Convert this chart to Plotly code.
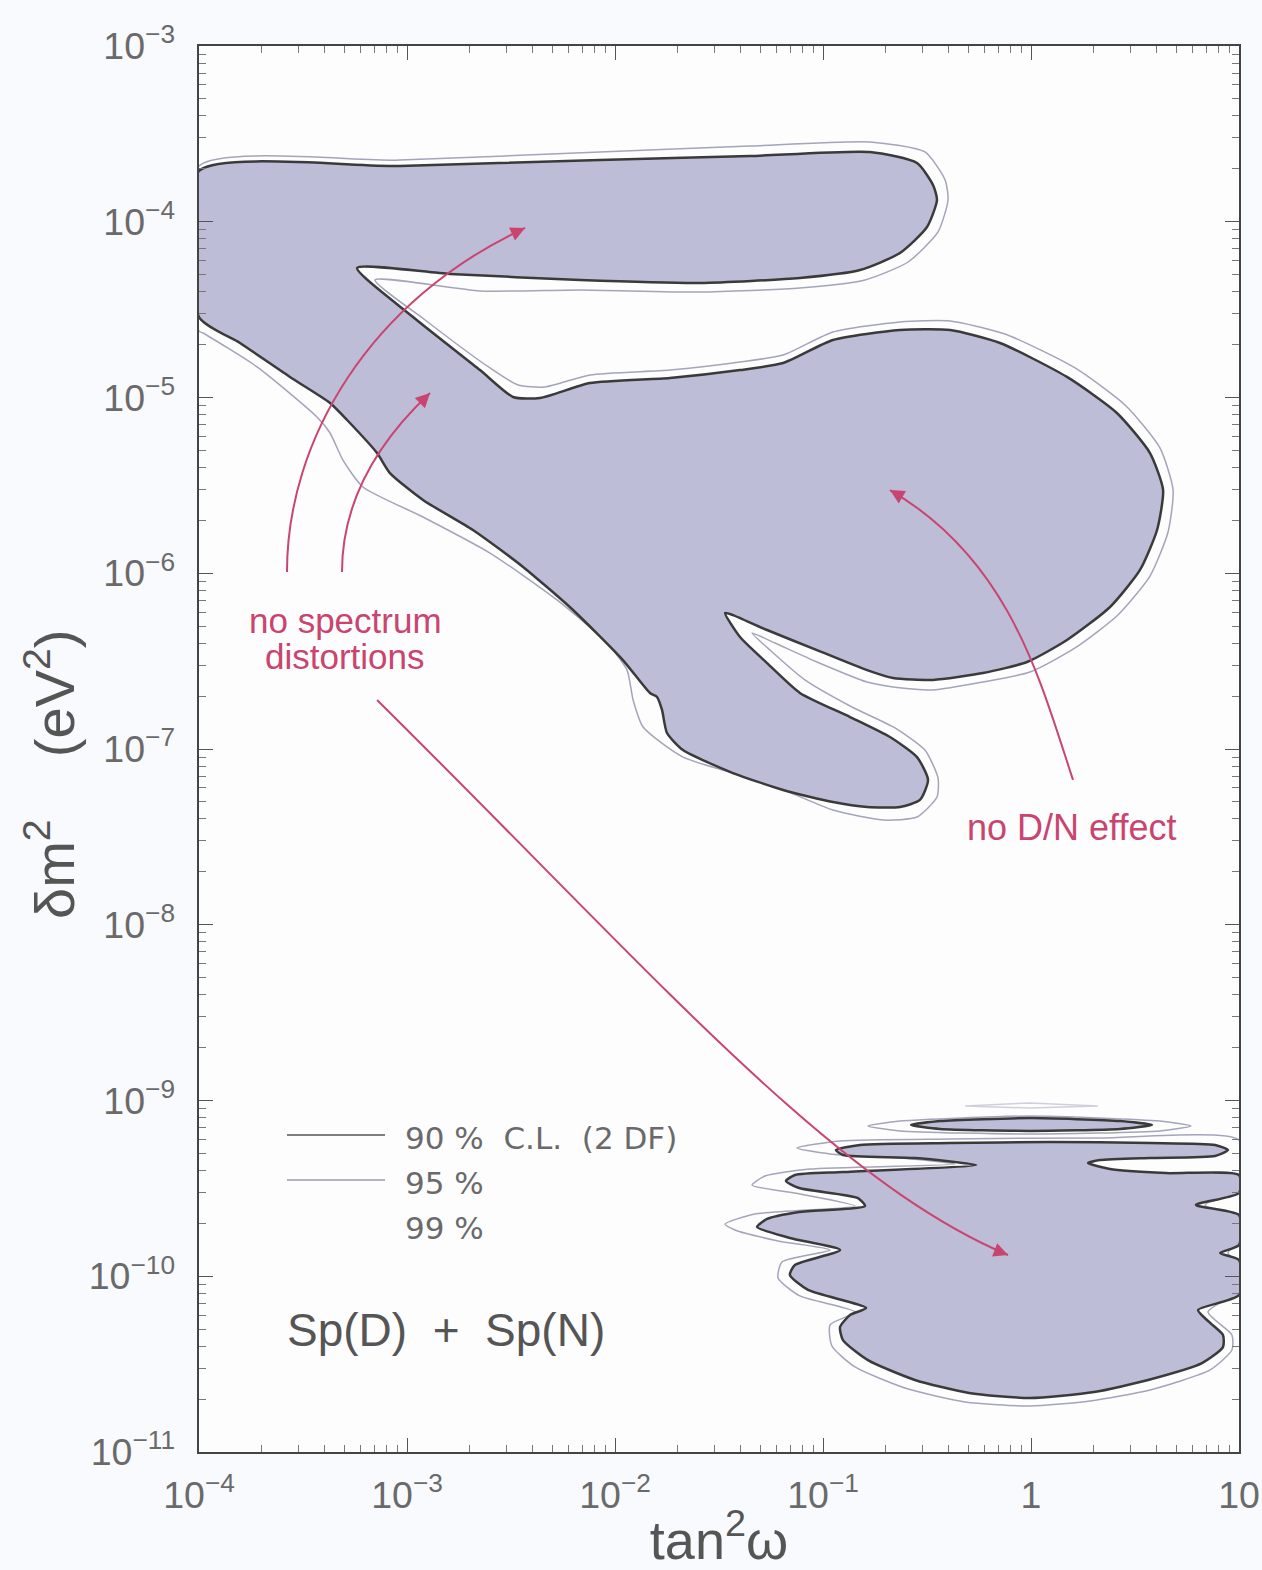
import plotly.graph_objects as go

# ---- axis ranges (log10) ----
x_log_range = [-4, 1]
y_log_range = [-11, -3]

# ---- 90% C.L. contours (log10 tan^2 w, log10 dm^2) ----
cl90_main_log_tan2 = [-4.000, -3.034, -2.072, -1.351, -0.774, -0.548, -0.471, -0.452, -0.500, -0.630,
                      -0.822, -1.111, -1.591, -2.168, -2.793, -3.240, -2.971, -2.649, -2.490, -2.361,
                      -2.120, -1.736, -1.399, -1.192, -0.952, -0.630, -0.389, -0.149, 0.173, 0.413,
                      0.572, 0.635, 0.606, 0.524, 0.380, 0.173, -0.019, -0.231, -0.471, -0.663,
                      -0.788, -1.029, -1.269, -1.433, -1.471, -1.399, -1.269, -1.111, -0.870, -0.678,
                      -0.548, -0.495, -0.534, -0.630, -0.788, -0.952, -1.192, -1.433, -1.673, -1.750,
                      -1.774, -1.798, -1.832, -1.962, -2.202, -2.442, -2.683, -2.923, -3.082, -3.144,
                      -3.288, -3.370, -3.563, -3.803, -4.000]
cl90_main_log_dm2 = [-3.711, -3.683, -3.649, -3.626, -3.603, -3.666, -3.791, -3.876, -4.030, -4.178,
                     -4.275, -4.320, -4.348, -4.331, -4.297, -4.263, -4.542, -4.844, -4.997, -5.003,
                     -4.918, -4.889, -4.844, -4.804, -4.673, -4.616, -4.616, -4.690, -4.883, -5.088,
                     -5.316, -5.526, -5.754, -5.981, -6.192, -6.380, -6.505, -6.568, -6.607, -6.596,
                     -6.551, -6.437, -6.323, -6.238, -6.226, -6.363, -6.511, -6.681, -6.818, -6.932,
                     -7.046, -7.176, -7.290, -7.330, -7.330, -7.302, -7.233, -7.137, -7.006, -6.909,
                     -6.778, -6.704, -6.681, -6.494, -6.209, -5.964, -5.754, -5.583, -5.430, -5.316,
                     -5.128, -5.031, -4.883, -4.690, -4.542]

cl90_low_log_tan2 = [-0.938, -0.822, -0.389, 0.091, 0.572, 0.885, 0.947, 0.885, 0.572, 0.332,
                     0.274, 0.380, 0.649, 1.000, 1.000, 0.793, 1.000, 1.000, 0.909, 1.000,
                     1.000, 0.803, 0.856, 0.923, 0.923, 0.822, 0.563, 0.303, -0.005, -0.298,
                     -0.558, -0.784, -0.904, -0.918, -0.870, -0.793, -1.072, -1.159, -1.135, -0.918,
                     -1.159, -1.317, -1.269, -1.115, -0.798, -0.832, -1.115, -1.178, -1.135, -0.904,
                     -0.264, -0.558, -0.904]
cl90_low_log_dm2 = [-9.282, -9.253, -9.242, -9.236, -9.242, -9.253, -9.282, -9.316, -9.327, -9.339,
                    -9.356, -9.390, -9.413, -9.424, -9.526, -9.594, -9.652, -9.822, -9.868, -9.908,
                    -10.107, -10.192, -10.260, -10.334, -10.403, -10.494, -10.590, -10.659, -10.693, -10.664,
                    -10.590, -10.477, -10.363, -10.289, -10.220, -10.181, -10.078, -9.993, -9.936, -9.851,
                    -9.782, -9.720, -9.674, -9.634, -9.600, -9.555, -9.498, -9.458, -9.424, -9.407,
                    -9.367, -9.327, -9.310]

cl90_sliver_log_tan2 = [-0.577, -0.438, -0.005, 0.428, 0.582, 0.428, -0.005, -0.438]
cl90_sliver_log_dm2 = [-9.139, -9.117, -9.100, -9.117, -9.139, -9.162, -9.173, -9.162]

# ---- 95% C.L. contours ----
cl95_main_log_tan2 = [-4.000, -3.034, -2.072, -1.351, -0.774, -0.510, -0.413, -0.399, -0.447, -0.591,
                      -0.798, -1.111, -1.591, -2.168, -2.649, -3.154, -2.913, -2.601, -2.466, -2.337,
                      -2.120, -1.736, -1.399, -1.192, -0.952, -0.630, -0.389, -0.125, 0.212, 0.457,
                      0.620, 0.683, 0.659, 0.572, 0.418, 0.212, -0.005, -0.231, -0.471, -0.663,
                      -0.788, -1.029, -1.231, -1.341, -1.255, -1.087, -0.861, -0.654, -0.510, -0.447,
                      -0.452, -0.548, -0.712, -0.952, -1.269, -1.673, -1.865, -1.913, -1.942, -2.038,
                      -2.279, -2.601, -2.923, -3.212, -3.308, -3.370, -3.433, -3.721, -3.981, -4.000]
cl95_main_log_dm2 = [-3.683, -3.649, -3.603, -3.569, -3.546, -3.603, -3.762, -3.876, -4.058, -4.229,
                     -4.331, -4.377, -4.400, -4.388, -4.394, -4.331, -4.559, -4.832, -4.929, -4.940,
                     -4.872, -4.844, -4.798, -4.758, -4.627, -4.570, -4.565, -4.639, -4.832, -5.048,
                     -5.287, -5.526, -5.765, -6.016, -6.238, -6.425, -6.562, -6.619, -6.664, -6.647,
                     -6.619, -6.505, -6.397, -6.340, -6.437, -6.607, -6.761, -6.880, -7.006, -7.165,
                     -7.273, -7.387, -7.404, -7.347, -7.193, -7.046, -6.875, -6.721, -6.551, -6.397,
                     -6.152, -5.885, -5.680, -5.509, -5.356, -5.202, -5.111, -4.826, -4.633, -4.622]

cl95_low_log_tan2 = [-1.125, -0.918, -0.389, 0.332, 1.000, 1.000, 0.837, 1.000, 1.000, 0.947,
                     1.000, 1.000, 0.851, 0.966, 0.966, 0.861, 0.572, 0.284, -0.005, -0.317,
                     -0.606, -0.846, -0.957, -0.966, -0.846, -1.111, -1.216, -1.197, -0.966, -1.216,
                     -1.423, -1.471, -1.327, -0.846, -1.111, -1.341, -1.279, -1.063, -0.365, -0.630,
                     -0.966]
cl95_low_log_dm2 = [-9.270, -9.230, -9.219, -9.213, -9.225, -9.509, -9.594, -9.680, -9.794, -9.868,
                    -9.936, -10.078, -10.203, -10.334, -10.420, -10.533, -10.647, -10.710, -10.738, -10.715,
                    -10.636, -10.516, -10.397, -10.277, -10.203, -10.112, -10.010, -9.919, -9.851, -9.799,
                    -9.737, -9.703, -9.646, -9.600, -9.532, -9.481, -9.430, -9.390, -9.361, -9.327,
                    -9.304]

cl95_sliver_log_tan2 = [-0.784, -0.630, -0.005, 0.620, 0.769, 0.620, -0.005, -0.630]
cl95_sliver_log_dm2 = [-9.145, -9.117, -9.088, -9.117, -9.145, -9.173, -9.191, -9.173]

# ---- 99% C.L. faint sliver ----
cl99_sliver_log_tan2 = [-0.317, -0.005, 0.322, -0.005]
cl99_sliver_log_dm2 = [-9.031, -9.014, -9.031, -9.043]

legend_labels = ["90 %  C.L.  (2 DF)", "95 %", "99 %"]

FILL = "#bdbdd7"
LINE90 = "#3a3a3a"
LINE95 = "#a4a4ba"
LINE99 = "#d0d0dc"
RED = "#c9456f"
TXT = "#6a6a6a"


def pow10(vals):
    return [10 ** v for v in vals]


def closed(v):
    return list(v) + [v[0]]


fig = go.Figure()

# 99% and 95% outlines (no fill)
fig.add_trace(go.Scatter(x=pow10(closed(cl99_sliver_log_tan2)), y=pow10(closed(cl99_sliver_log_dm2)),
                         mode="lines", line=dict(color=LINE99, width=1.5), hoverinfo="skip"))
for xs, ys in [(cl95_main_log_tan2, cl95_main_log_dm2),
               (cl95_low_log_tan2, cl95_low_log_dm2),
               (cl95_sliver_log_tan2, cl95_sliver_log_dm2)]:
    fig.add_trace(go.Scatter(x=pow10(closed(xs)), y=pow10(closed(ys)), mode="lines",
                             line=dict(color=LINE95, width=1.5, shape="spline", smoothing=0.6),
                             hoverinfo="skip"))

# 90% filled regions
for xs, ys in [(cl90_main_log_tan2, cl90_main_log_dm2),
               (cl90_low_log_tan2, cl90_low_log_dm2),
               (cl90_sliver_log_tan2, cl90_sliver_log_dm2)]:
    fig.add_trace(go.Scatter(x=pow10(closed(xs)), y=pow10(closed(ys)), mode="lines",
                             fill="toself", fillcolor=FILL,
                             line=dict(color=LINE90, width=2.5, shape="spline", smoothing=0.6),
                             hoverinfo="skip"))


def px(x):
    return (x - 199) / 1040.0


def py(y):
    return (1452 - y) / 1406.0


# curved red arrows (paper coords)
arrow_paths = [
    ((287, 572), (287, 440), (370, 300), (525, 228), (-13, 6)),
    ((342, 572), (342, 500), (380, 440), (430, 393), (-10, 10)),
    ((377, 700), (650, 970), (830, 1180), (1008, 1255), (-13, -5)),
    ((1073, 780), (1040, 680), (1010, 560), (890, 490), (12, 7)),
]
shapes = []
annotations = []
for p0, c1, c2, p3, (ax, ay) in arrow_paths:
    path = "M {:.4f},{:.4f} C {:.4f},{:.4f} {:.4f},{:.4f} {:.4f},{:.4f}".format(
        px(p0[0]), py(p0[1]), px(c1[0]), py(c1[1]), px(c2[0]), py(c2[1]), px(p3[0]), py(p3[1]))
    shapes.append(dict(type="path", xref="paper", yref="paper", path=path,
                       line=dict(color=RED, width=2)))
    annotations.append(dict(xref="paper", yref="paper", x=px(p3[0]), y=py(p3[1]), ax=ax, ay=ay,
                            text="", showarrow=True, arrowhead=2, arrowsize=1.3, arrowwidth=2.2,
                            arrowcolor=RED, standoff=0))

# legend lines
shapes.append(dict(type="line", xref="paper", yref="paper", x0=px(287), x1=px(385), y0=py(1135), y1=py(1135),
                   line=dict(color="#555", width=1.5)))
shapes.append(dict(type="line", xref="paper", yref="paper", x0=px(287), x1=px(385), y0=py(1180), y1=py(1180),
                   line=dict(color="#9a9aae", width=1.5)))
for lab, yy in zip(legend_labels, [1138, 1183, 1228]):
    annotations.append(dict(xref="paper", yref="paper", x=px(403), y=py(yy), xanchor="left", yanchor="middle",
                            text=lab, showarrow=False, font=dict(family="DejaVu Sans", size=31, color=TXT)))

annotations.append(dict(xref="paper", yref="paper", x=px(285), y=py(1330), xanchor="left", yanchor="middle",
                        text="Sp(D)  +  Sp(N)", showarrow=False,
                        font=dict(family="Liberation Sans", size=46, color="#555")))
annotations.append(dict(xref="paper", yref="paper", x=px(345), y=py(621), xanchor="center", yanchor="middle",
                        text="no spectrum", showarrow=False,
                        font=dict(family="Liberation Sans", size=35, color=RED)))
annotations.append(dict(xref="paper", yref="paper", x=px(345), y=py(656), xanchor="center", yanchor="middle",
                        text="distortions", showarrow=False,
                        font=dict(family="Liberation Sans", size=35, color=RED)))
annotations.append(dict(xref="paper", yref="paper", x=px(1071), y=py(828), xanchor="center", yanchor="middle",
                        text="no D/N effect", showarrow=False,
                        font=dict(family="Liberation Sans", size=36, color=RED)))

# y-axis title placed to match the reference
annotations.append(dict(xref="paper", yref="paper", x=px(50), y=py(775), xanchor="center", yanchor="middle",
                        textangle=-90, text="δm<sup>2</sup>    (eV<sup>2</sup>)", showarrow=False,
                        font=dict(family="Liberation Sans", size=56, color="#555")))

axis_common = dict(
    type="log", dtick=1, exponentformat="power", showgrid=False, zeroline=False,
    showline=True, linecolor="#444", linewidth=2, mirror="ticks",
    ticks="inside", ticklen=14, tickwidth=1.2, tickcolor="#555",
    minor=dict(ticks="inside", ticklen=7, tickwidth=1, tickcolor="#777", showgrid=False),
    tickfont=dict(family="Liberation Sans", size=30, color=TXT),
    automargin=False,
)

fig.update_layout(
    width=1262, height=1570,
    margin=dict(l=199, r=23, t=46, b=118),
    paper_bgcolor="#f9fafd",
    plot_bgcolor="#fdfdfe",
    showlegend=False,
    xaxis=dict(range=x_log_range, ticklabelstandoff=10,
               title=dict(text="tan<sup>2</sup>ω", standoff=8,
                          font=dict(family="Liberation Sans", size=54, color="#555")),
               **axis_common),
    yaxis=dict(range=y_log_range, ticklabelstandoff=16, **axis_common),
    shapes=shapes,
    annotations=annotations,
)

fig.write_html("out.html")
